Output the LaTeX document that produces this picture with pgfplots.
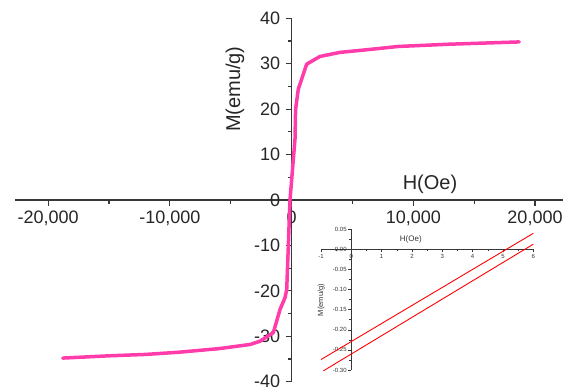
\documentclass[border=0pt]{standalone}
\usepackage{pgfplots}
\pgfplotsset{compat=1.18}
\usepackage{fontspec}
\setmainfont{Liberation Sans}
\definecolor{curvepink}{RGB}{255,60,170}
\definecolor{axgray}{RGB}{55,55,55}
\begin{document}
\begin{tikzpicture}[x=1pt,y=1pt]
\useasboundingbox (0,0) rectangle (569,387);
\begin{axis}[
  at={(15.3pt,5.3pt)}, anchor=south west,
  scale only axis, width=547.7pt, height=363.4pt,
  xmin=-22700, xmax=22300, ymin=-40, ymax=40,
  clip=false,
  scaled x ticks=false, scaled y ticks=false,
  axis lines=middle, axis line style={-, axgray, line width=1.2pt},
  xtick={-20000,-10000,0,10000,20000},
  xticklabels={{-20,000},{-10,000},{0},{10,000},{20,000}},
  minor xtick={-15000,-5000,5000,15000},
  ytick={-40,-30,-20,-10,0,10,20,30,40},
  yticklabels={-40,-30,-20,-10,0,10,20,30,40},
  minor ytick={-35,-25,-15,-5,5,15,25,35},
  hide obscured x ticks=false, hide obscured y ticks=false,
  tick align=outside,
  major tick length=6pt, minor tick length=4pt,
  every tick/.style={axgray, line width=1.2pt},
  every tick label/.append style={font=\fontsize{18}{21}\selectfont, text=black!85},
  yticklabel style={xshift=-2pt},
  xticklabel style={yshift=-1pt},
]
\addplot[curvepink, line width=3.5pt, line join=round, line cap=round] coordinates {
(-18800,-34.8) (-15000,-34.3) (-12000,-34.0) (-9200,-33.5) (-5900,-32.7)
(-3400,-31.8) (-2600,-31.1) (-1500,-29.2) (-950,-24.1) (-540,-21.5)
(-400,-19.7) (-130,0) (280,13.4) (330,20) (550,24.4) (1240,29.9)
(2330,31.6) (3980,32.5) (5890,33.0) (8770,33.8) (13000,34.3) (18700,34.8)
};
\node[font=\fontsize{20}{23}\selectfont, text=black!85] at (axis cs:11370,3.5) {H(Oe)};
\node[rotate=90, font=\fontsize{20}{23}\selectfont, text=black!85] at (axis cs:-4650,24.4) {M(emu/g)};
\end{axis}
\begin{axis}[
  at={(321pt,17pt)}, anchor=south west,
  scale only axis, width=212.3pt, height=140.7pt,
  xmin=-1, xmax=6, ymin=-0.30, ymax=0.05,
  clip=false,
  axis lines=middle, axis line style={-, axgray, line width=0.6pt},
  xtick={-1,0,1,2,3,4,5,6},
  xticklabels={-1,0,1,2,3,4,5,6},
  minor xtick={-0.5,0.5,1.5,2.5,3.5,4.5,5.5},
  ytick={-0.3,-0.25,-0.2,-0.15,-0.1,-0.05,0,0.05},
  yticklabels={-0.30,-0.25,-0.20,-0.15,-0.10,-0.05,0.00,0.05},
  minor ytick={-0.275,-0.225,-0.175,-0.125,-0.075,-0.025,0.025},
  hide obscured x ticks=false, hide obscured y ticks=false,
  tick align=outside,
  major tick length=3pt, minor tick length=2pt,
  every tick/.style={axgray, line width=0.5pt},
  every tick label/.append style={font=\fontsize{6}{7}\selectfont, text=black!80, inner sep=1.5pt},
]
\addplot[red, line width=0.9pt] coordinates {(-1,-0.274) (6,0.040)};
\addplot[red, line width=0.9pt] coordinates {(-0.92,-0.302) (6,0.013)};
\node[font=\fontsize{8}{9}\selectfont, text=black!80] at (axis cs:1.96,0.025) {H(Oe)};
\node[rotate=90, font=\fontsize{7.5}{9}\selectfont, text=black!80] at (axis cs:-0.99,-0.126) {M(emu/g)};
\end{axis}
\end{tikzpicture}
\end{document}
